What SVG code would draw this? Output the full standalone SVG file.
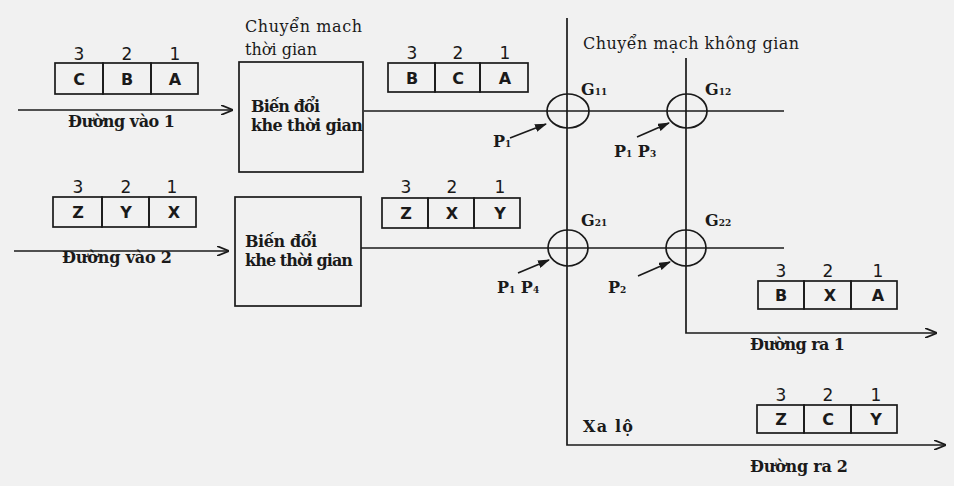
<svg xmlns="http://www.w3.org/2000/svg" width="954" height="486" viewBox="0 0 954 486">
<defs>
<style>
.ln{stroke:#1a1a1a;stroke-width:1.7;fill:none}
.cell{stroke:#1a1a1a;stroke-width:1.7;fill:none}
.box{stroke:#1a1a1a;stroke-width:1.7;fill:none}
.sw{stroke:#1a1a1a;stroke-width:1.7;fill:none}
.lbl{font-family:"DejaVu Serif","Liberation Serif",serif;font-size:16px;fill:#1a1a1a}
.lblb{font-family:"DejaVu Serif","Liberation Serif",serif;font-size:16px;font-weight:bold;fill:#1a1a1a}
.let{font-family:"DejaVu Sans","Liberation Sans",sans-serif;font-size:16px;font-weight:bold;fill:#1a1a1a;text-anchor:middle}
.num{font-family:"DejaVu Sans","Liberation Sans",sans-serif;font-size:17px;fill:#1a1a1a;text-anchor:middle}
.sm{font-family:"DejaVu Serif","Liberation Serif",serif;font-size:16px;font-weight:bold;fill:#1a1a1a}
</style>
<marker id="ah" viewBox="0 0 12 10" refX="11" refY="5" markerWidth="12" markerHeight="10" markerUnits="userSpaceOnUse" orient="auto">
<path d="M0,0 L12,5 L0,10" fill="none" stroke="#1a1a1a" stroke-width="1.7"/>
</marker>
<marker id="ahf" viewBox="0 0 12 8" refX="11" refY="4" markerWidth="12" markerHeight="8" markerUnits="userSpaceOnUse" orient="auto">
<path d="M0,0 L12,4 L0,8 Z" fill="#1a1a1a"/>
</marker>
</defs>
<rect width="954" height="486" fill="#f1f1f1"/>

<g id="connectors">
<line class="ln" x1="18" y1="110" x2="232" y2="110" marker-end="url(#ah)"/>
<line class="ln" x1="14" y1="251" x2="228" y2="251" marker-end="url(#ah)"/>
<line class="ln" x1="364" y1="111" x2="784" y2="111"/>
<line class="ln" x1="361" y1="248" x2="784" y2="248"/>
<polyline class="ln" points="567,18 567,445 945,445" marker-end="url(#ah)"/>
<polyline class="ln" points="686,58 686,333 936,333" marker-end="url(#ah)"/>
<line class="ln" x1="510" y1="138" x2="546" y2="124" marker-end="url(#ahf)"/>
<line class="ln" x1="637" y1="137" x2="669" y2="123" marker-end="url(#ahf)"/>
<line class="ln" x1="518" y1="273" x2="549" y2="260" marker-end="url(#ahf)"/>
<line class="ln" x1="638" y1="276" x2="670" y2="262" marker-end="url(#ahf)"/>
</g>

<g id="in1-frame">
<rect class="cell" x="55" y="63" width="48" height="31"/>
<rect class="cell" x="103" y="63" width="48" height="31"/>
<rect class="cell" x="151" y="63" width="47" height="31"/>
<text class="num" x="79" y="60">3</text><text class="num" x="127" y="60">2</text><text class="num" x="175" y="60">1</text>
<text class="let" x="79" y="85">C</text><text class="let" x="127" y="85">B</text><text class="let" x="175" y="85">A</text>
<text class="lblb" x="68" y="127" textLength="107">Đường vào 1</text>
</g>

<g id="in2-frame">
<rect class="cell" x="53" y="197" width="49" height="30"/>
<rect class="cell" x="102" y="197" width="47" height="30"/>
<rect class="cell" x="149" y="197" width="47" height="30"/>
<text class="num" x="78" y="193">3</text><text class="num" x="126" y="193">2</text><text class="num" x="172" y="193">1</text>
<text class="let" x="78" y="218">Z</text><text class="let" x="126" y="218">Y</text><text class="let" x="174" y="218">X</text>
<text class="lblb" x="62" y="263" textLength="110">Đường vào 2</text>
</g>

<g id="tsi1">
<text class="lbl" x="245" y="32" textLength="117">Chuyển mach</text>
<text class="lbl" x="245" y="55" textLength="72">thời gian</text>
<rect class="box" x="239" y="62" width="124" height="110"/>
<text class="lblb" x="251" y="112" textLength="69">Biến đổi</text>
<text class="lblb" x="251" y="131" textLength="112">khe thời gian</text>
</g>

<g id="tsi2">
<rect class="box" x="235" y="197" width="126" height="109"/>
<text class="lblb" x="245" y="247" textLength="72">Biến đổi</text>
<text class="lblb" x="245" y="266" textLength="108">khe thời gian</text>
</g>

<g id="mid1-frame">
<rect class="cell" x="388" y="63" width="47" height="29"/>
<rect class="cell" x="435" y="63" width="45" height="29"/>
<rect class="cell" x="480" y="63" width="48" height="29"/>
<text class="num" x="412" y="59">3</text><text class="num" x="458" y="59">2</text><text class="num" x="505" y="59">1</text>
<text class="let" x="412" y="84">B</text><text class="let" x="458" y="84">C</text><text class="let" x="505" y="84">A</text>
</g>

<g id="mid2-frame">
<rect class="cell" x="382" y="198" width="46" height="30"/>
<rect class="cell" x="428" y="198" width="46" height="30"/>
<rect class="cell" x="474" y="198" width="46" height="30"/>
<text class="num" x="406" y="193">3</text><text class="num" x="452" y="193">2</text><text class="num" x="500" y="193">1</text>
<text class="let" x="406" y="219">Z</text><text class="let" x="452" y="219">X</text><text class="let" x="500" y="219">Y</text>
</g>

<g id="space-switch-title">
<text class="lbl" x="583" y="49" textLength="216">Chuyển mạch không gian</text>
</g>

<g id="g11">
<ellipse class="sw" cx="568" cy="111" rx="21" ry="17"/>
<text class="sm" x="581" y="95">G<tspan font-size="9">11</tspan></text>
</g>
<g id="g12">
<ellipse class="sw" cx="687" cy="111" rx="20" ry="17"/>
<text class="sm" x="705" y="95">G<tspan font-size="9">12</tspan></text>
</g>
<g id="g21">
<ellipse class="sw" cx="568" cy="248" rx="20" ry="18"/>
<text class="sm" x="581" y="226">G<tspan font-size="9">21</tspan></text>
</g>
<g id="g22">
<ellipse class="sw" cx="686" cy="248" rx="20" ry="18"/>
<text class="sm" x="705" y="226">G<tspan font-size="9">22</tspan></text>
</g>

<g id="p-labels">
<text class="sm" x="493" y="147">P<tspan font-size="9">1</tspan></text>
<text class="sm" x="614" y="157">P<tspan font-size="9">1</tspan> P<tspan font-size="9">3</tspan></text>
<text class="sm" x="497" y="293">P<tspan font-size="9">1</tspan> P<tspan font-size="9">4</tspan></text>
<text class="sm" x="608" y="293">P<tspan font-size="9">2</tspan></text>
</g>

<g id="out1-frame">
<rect class="cell" x="758" y="281" width="46" height="28"/>
<rect class="cell" x="804" y="281" width="47" height="28"/>
<rect class="cell" x="851" y="281" width="46" height="28"/>
<text class="num" x="781" y="277">3</text><text class="num" x="828" y="277">2</text><text class="num" x="878" y="277">1</text>
<text class="let" x="781" y="301">B</text><text class="let" x="830" y="301">X</text><text class="let" x="878" y="301">A</text>
<text class="lblb" x="750" y="350" textLength="95">Đường ra 1</text>
</g>

<g id="out2-frame">
<rect class="cell" x="757" y="405" width="47" height="28"/>
<rect class="cell" x="804" y="405" width="47" height="28"/>
<rect class="cell" x="851" y="405" width="46" height="28"/>
<text class="num" x="781" y="401">3</text><text class="num" x="828" y="401">2</text><text class="num" x="876" y="401">1</text>
<text class="let" x="781" y="425">Z</text><text class="let" x="828" y="425">C</text><text class="let" x="876" y="425">Y</text>
<text class="lblb" x="750" y="472" textLength="98">Đường ra 2</text>
</g>

<g id="highway">
<text class="sm" x="583" y="432" textLength="50">Xa lộ</text>
</g>
</svg>
